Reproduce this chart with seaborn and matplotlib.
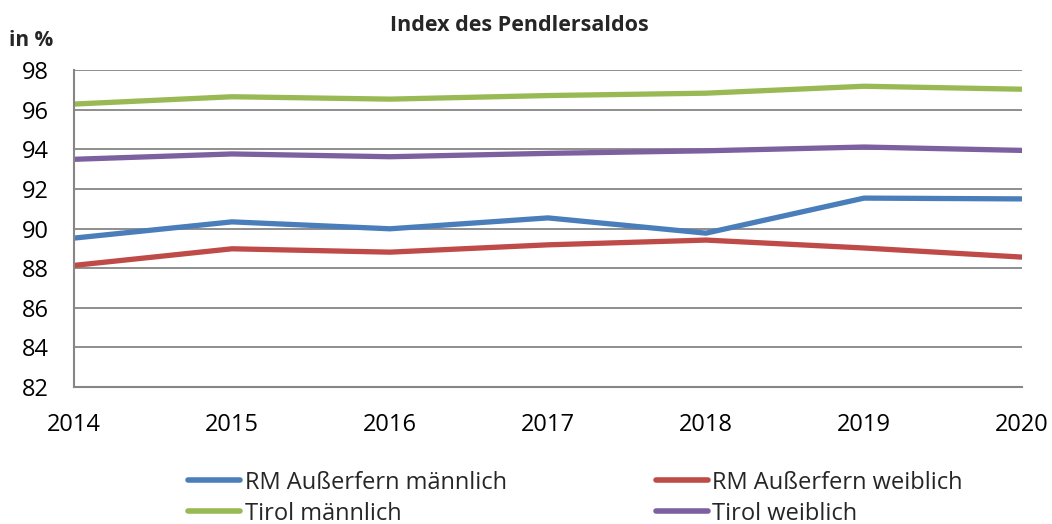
"""
Index des Pendlersaldos - line chart recreation.
"""

import numpy as np
import pandas as pd
import matplotlib.pyplot as plt
import seaborn as sns

# Data
years = [2014, 2015, 2016, 2017, 2018, 2019, 2020]
rm_maennlich = [89.52, 90.34, 89.99, 90.54, 89.77, 91.54, 91.50]
rm_weiblich = [88.14, 88.98, 88.81, 89.18, 89.42, 89.02, 88.56]
tirol_maennlich = [96.29, 96.66, 96.54, 96.72, 96.84, 97.19, 97.04]
tirol_weiblich = [93.50, 93.77, 93.63, 93.80, 93.93, 94.12, 93.95]

series_names = ['RM Außerfern männlich', 'RM Außerfern weiblich',
                'Tirol männlich', 'Tirol weiblich']
series_values = [rm_maennlich, rm_weiblich, tirol_maennlich, tirol_weiblich]
colors = ['#4A7EBB', '#BE4B48', '#98B954', '#7D60A0']

df = pd.concat([pd.DataFrame({'Jahr': years, 'Wert': v, 'Reihe': n})
                for n, v in zip(series_names, series_values)], ignore_index=True)

sns.set_style("white")
plt.rcParams['font.family'] = ['Open Sans', 'DejaVu Sans']

fig = plt.figure(figsize=(10.52, 5.24), dpi=100)
ax = fig.add_axes([0.0703, 0.2615, 0.9012, 0.6045])

sns.lineplot(data=df, x='Jahr', y='Wert', hue='Reihe', hue_order=series_names,
             palette=colors, linewidth=3.8, ax=ax, legend=False,
             solid_capstyle='round')

grid_col = '#868686'
ax.set_xlim(2014, 2020)
ax.set_ylim(82, 98)
ax.set_yticks(np.arange(82, 99, 2))
ax.set_xticks(years)
ax.yaxis.grid(True, color=grid_col, linewidth=1.3)
ax.set_axisbelow(True)
for side in ['top', 'right']:
    ax.spines[side].set_visible(False)
for side in ['left', 'bottom']:
    ax.spines[side].set_color(grid_col)
    ax.spines[side].set_linewidth(1.5)
ax.tick_params(axis='both', direction='out', length=6, width=1.3,
               color=grid_col, labelsize=17, labelcolor='black')
ax.tick_params(axis='x', pad=13)
ax.tick_params(axis='y', pad=12)
ax.set_xlabel('')
ax.set_ylabel('')

fig.text(0.494, 0.952, 'Index des Pendlersaldos', ha='center', va='center',
         fontsize=15.5, fontweight='bold')
fig.text(0.009, 0.922, 'in %', ha='left', va='center',
         fontsize=15, fontweight='bold')

# Legend (column-wise fill: blue, green | red, purple)
order = [0, 2, 1, 3]
handles = [plt.Line2D([], [], color=colors[i], linewidth=4,
                      solid_capstyle='round') for i in order]
labels = [series_names[i] for i in order]
fig.legend(handles, labels, ncol=2, loc='upper left',
           bbox_to_anchor=(0.179, 0.102), frameon=False, fontsize=17,
           handlelength=2.2, handletextpad=0.2, columnspacing=6.3,
           labelspacing=0.3, borderaxespad=0, borderpad=0)

plt.savefig('out.png', dpi=100)
plt.close()
